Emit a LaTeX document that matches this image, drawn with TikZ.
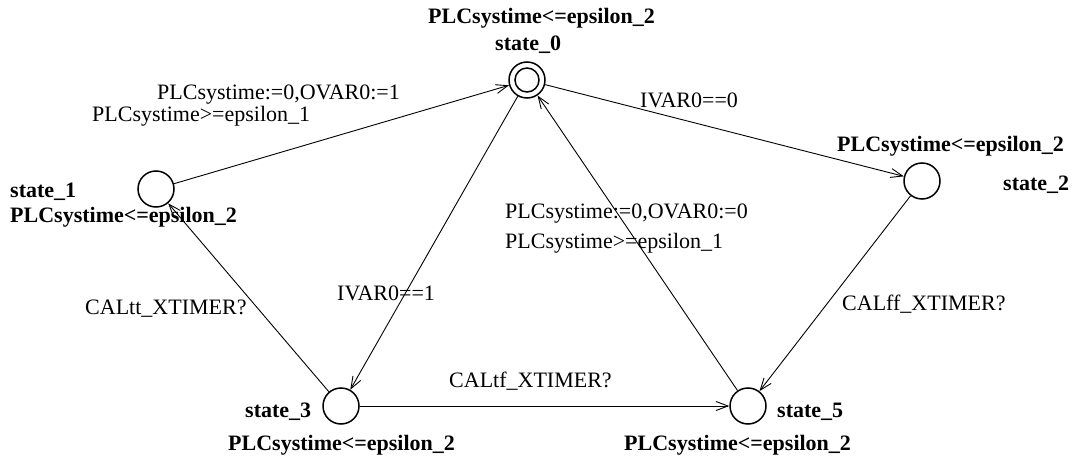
\documentclass[tikz,border=0pt]{standalone}
\usepackage{fontspec}
\setmainfont[Ligatures=NoCommon]{Liberation Serif}
\usetikzlibrary{arrows.meta}
\begin{document}
\begin{tikzpicture}[x=1pt,y=-1pt,
  loc/.style={circle,draw,line width=1.5pt,minimum size=36pt,inner sep=0pt},
  edge/.style={line width=0.9pt,-{Straight Barb[length=12pt,width=9pt,line width=0.9pt]}},
  nm/.style={anchor=base west,inner sep=0pt,font=\fontsize{22}{26}\selectfont\bfseries},
  lab/.style={anchor=base west,inner sep=0pt,font=\fontsize{22}{26}\selectfont}]
\useasboundingbox (0,0) rectangle (1075,462);

% locations
\node[loc] (s0) at (527,80) {};
\draw[line width=1.5pt] (s0.center) circle (12pt);
\node[loc] (s1) at (156,189) {};
\node[loc] (s2) at (922,181) {};
\node[loc] (s3) at (341,406) {};
\node[loc] (s5) at (748,406) {};

% names and invariants
\node[nm] (inv0) at (428,24) {PLCsystime<=epsilon\_2};
\node[nm] (n0) at (495,51) {state\_0};
\node[nm] (n1) at (10,198) {state\_1};
\node[nm] (inv1) at (10,223) {PLCsystime<=epsilon\_2};
\node[nm] (inv2) at (837,152) {PLCsystime<=epsilon\_2};
\node[nm] (n2) at (1003,191) {state\_2};
\node[nm] (n3) at (245,417) {state\_3};
\node[nm] (inv3) at (228,450) {PLCsystime<=epsilon\_2};
\node[nm] (n5) at (777,417) {state\_5};
\node[nm] (inv5) at (624,450) {PLCsystime<=epsilon\_2};

% transitions
\draw[edge] (s1) -- (s0);
\draw[edge] (s0) -- (s2);
\draw[edge] (s0) -- (s3);
\draw[edge] (s5) -- (s0);
\draw[edge] (s3) -- (s1);
\draw[edge] (s2) -- (s5);
\draw[edge] (s3) -- (s5);

% transition labels
\node[lab] (a10) at (157,100) {PLCsystime:=0,OVAR0:=1};
\node[lab] (g10) at (92,122) {PLCsystime>=epsilon\_1};
\node[lab] (g02) at (640,108) {IVAR0==0};
\node[lab] (g03) at (337,300) {IVAR0==1};
\node[lab] (a50) at (505,219) {PLCsystime:=0,OVAR0:=0};
\node[lab] (g50) at (505,248) {PLCsystime>=epsilon\_1};
\node[lab] (s31) at (85,314) {CALtt\_XTIMER?};
\node[lab] (s25) at (842,310) {CALff\_XTIMER?};
\node[lab] (s35) at (449,387) {CALtf\_XTIMER?};
\end{tikzpicture}
\end{document}
